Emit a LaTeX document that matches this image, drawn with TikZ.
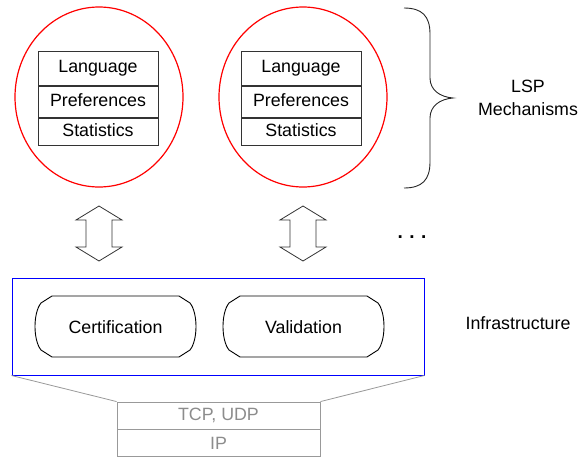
\documentclass[tikz,border=0pt]{standalone}
\usepackage{fontspec}
\setmainfont{Liberation Sans}
\usetikzlibrary{shapes.geometric}
\begin{document}
\begin{tikzpicture}[x=1pt,y=-1pt,
  every node/.style={font=\fontsize{17.8}{21}\selectfont, inner sep=0pt},
  cell/.style={draw=black!80, line width=0.9pt, minimum width=120pt, text height=13pt, text depth=4pt, anchor=north},
  mech/.style={draw=red, line width=1.2pt, ellipse, minimum width=168pt, minimum height=180pt},
  dblarrow/.style={draw=black!80, line width=0.8pt, fill=white},
  pill/.style={draw=black, line width=0.9pt},
  grey/.style={draw=black!40, line width=0.9pt, text=black!45}]
\useasboundingbox (0,0) rectangle (584,458);

% mechanism circles
\node[mech] (c1) at (99,97) {};
\node[mech] (c2) at (303,97) {};

% tables
\foreach \n/\cx in {a/98,b/301}{
  \node[cell, minimum height=34pt] (\n1) at (\cx,51) {Language};
  \node[cell, minimum height=31pt] (\n2) at (\n1.south) {Preferences};
  \node[cell, minimum height=27pt] (\n3) at (\n2.south) {Statistics};
}

% brace
\draw[black!85, line width=0.9pt] (404,8) .. controls (422,8) and (430,16) .. (430,34)
  -- (430,78) .. controls (430,90) and (440,97) .. (453,98)
  .. controls (440,99) and (430,106) .. (430,118)
  -- (430,162) .. controls (430,180) and (422,188) .. (404,188);
\node[align=center] (lsp) at (528,98) {LSP\\[2pt]Mechanisms};

% double arrows
\foreach \n/\cx in {d1/99,d2/303}{
  \draw[dblarrow] (\cx,206) -- ++(23,14) -- ++(-10,0) -- ++(0,27) -- ++(10,0)
    -- (\cx,261) -- ++(-23,-14) -- ++(10,0) -- ++(0,-27) -- ++(-10,0) -- cycle;
  \coordinate (\n) at (\cx,233);
}
\node[anchor=base, font=\fontsize{19}{19}\selectfont\bfseries] (dots) at (412,238) {.\hspace{6.5pt}.\hspace{6.5pt}.};

% infrastructure box
\node[draw=blue, line width=1pt, minimum width=412pt, minimum height=97pt] (infra) at (218,326.5) {};
\node (infl) at (518,323) {Infrastructure};

% pills
\foreach \n/\l/\r/\t in {cert/34/197/Certification,val/222/385/Validation}{
  \draw[pill] (\l+18,296) -- (\r-18,296) -- (\r-7,303)
    .. controls (\r+1,313) and (\r+1,340) .. (\r-7,350)
    -- (\r-18,357) -- (\l+18,357) -- (\l+7,350)
    .. controls (\l-1,340) and (\l-1,313) .. (\l+7,303) -- cycle;
  \node (\n) at ({(\l+\r)/2},327) {\t};
}

% transport layers
\node[grey, minimum width=203pt, minimum height=27pt] (tcp) at (218.5,415.5) {TCP, UDP};
\node[grey, minimum width=203pt, minimum height=27pt, anchor=north] (ip) at (tcp.south) {IP};
\draw[black!40, line width=0.8pt] (infra.south west) -- (tcp.north west);
\draw[black!40, line width=0.8pt] (infra.south east) -- (tcp.north east);
\end{tikzpicture}
\end{document}
